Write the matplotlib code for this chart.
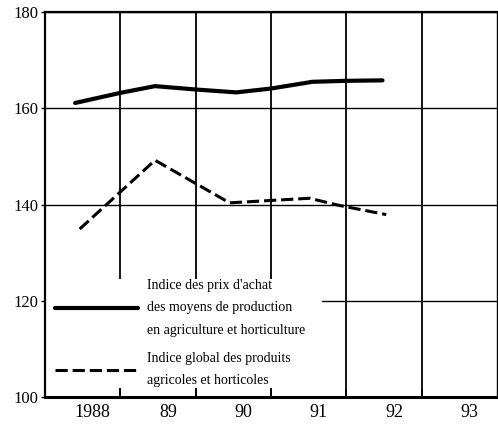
"""
Indices des prix agricoles 1988-93 (base 100),
redessine d'apres le graphique d'origine.
"""

import matplotlib.pyplot as plt
from matplotlib.patches import Rectangle
from matplotlib.transforms import ScaledTranslation

plt.rcParams['font.family'] = ['Liberation Serif', 'DejaVu Serif']

# indice des prix d'achat des moyens de production
t_achat = [1988.4, 1989.0, 1989.46, 1990.0, 1990.54, 1991.0, 1991.55, 1992.0, 1992.48]
achat = [161.1, 163.2, 164.6, 163.9, 163.3, 164.1, 165.5, 165.7, 165.8]

# indice global des produits agricoles
t_produits = [1988.46, 1989.46, 1990.45, 1991.51, 1991.91, 1992.53]
produits = [134.9, 149.2, 140.35, 141.3, 139.8, 137.9]

years = [1988, 1989, 1990, 1991, 1992, 1993]
year_labels = ['1988', '89', '90', '91', '92', '93']

label_achat = "Indice des prix d'achat\ndes moyens de production\nen agriculture et horticulture"
label_produits = "Indice global des produits\nagricoles et horticoles"

fig = plt.figure(figsize=(4.98, 4.26), dpi=100)
ax = fig.add_axes([0.0904, 0.068, 0.9076, 0.9038])

ax.plot(t_achat, achat, color='black', lw=3.0, solid_capstyle='round',
        label=label_achat)
ax.plot(t_produits, produits, color='black', lw=2.2, dashes=(4, 1.6),
        label=label_produits)

ax.set_xlim(years[0], years[-1] + 1)
ax.set_ylim(100, 180)

# year boundaries carry the grid, year centres carry the labels
ax.set_xticks(years[1:])
ax.set_xticks([y + 0.5 for y in years], minor=True)
ax.set_xticklabels([])
ax.set_xticklabels(year_labels, minor=True)
ax.tick_params(axis='x', which='major', direction='in', length=6, width=1.2)
ax.tick_params(axis='x', which='minor', length=0, pad=5, labelsize=13)
# labels sit a little right of the column centres in the original
shift = ScaledTranslation(0.1, 0, fig.dpi_scale_trans)
for lab in ax.get_xticklabels(minor=True):
    lab.set_transform(lab.get_transform() + shift)
ax.set_yticks([100, 120, 140, 160, 180])
ax.tick_params(axis='y', length=3, width=1, pad=2, labelsize=12)

ax.grid(True, axis='x', which='major', color='black', lw=1.3)
ax.grid(True, axis='y', color='black', lw=1.0)

ax.spines['left'].set_linewidth(1.6)
ax.spines['bottom'].set_linewidth(2.2)
ax.spines['top'].set_linewidth(1.6)
ax.spines['right'].set_linewidth(1.0)

# white patch behind the legend hides the grid
ax.add_patch(Rectangle((0, 0.023), 0.613, 0.283, transform=ax.transAxes,
                       facecolor='white', edgecolor='none', zorder=1.8))

leg = ax.legend(loc='lower left', bbox_to_anchor=(0.0, 0.0), frameon=False,
                fontsize=10, handlelength=6.0, handletextpad=0.65,
                labelspacing=1.1, borderaxespad=0.3)
for t in leg.get_texts():
    t.set_linespacing(1.95)

fig.savefig('out.png', dpi=100)
